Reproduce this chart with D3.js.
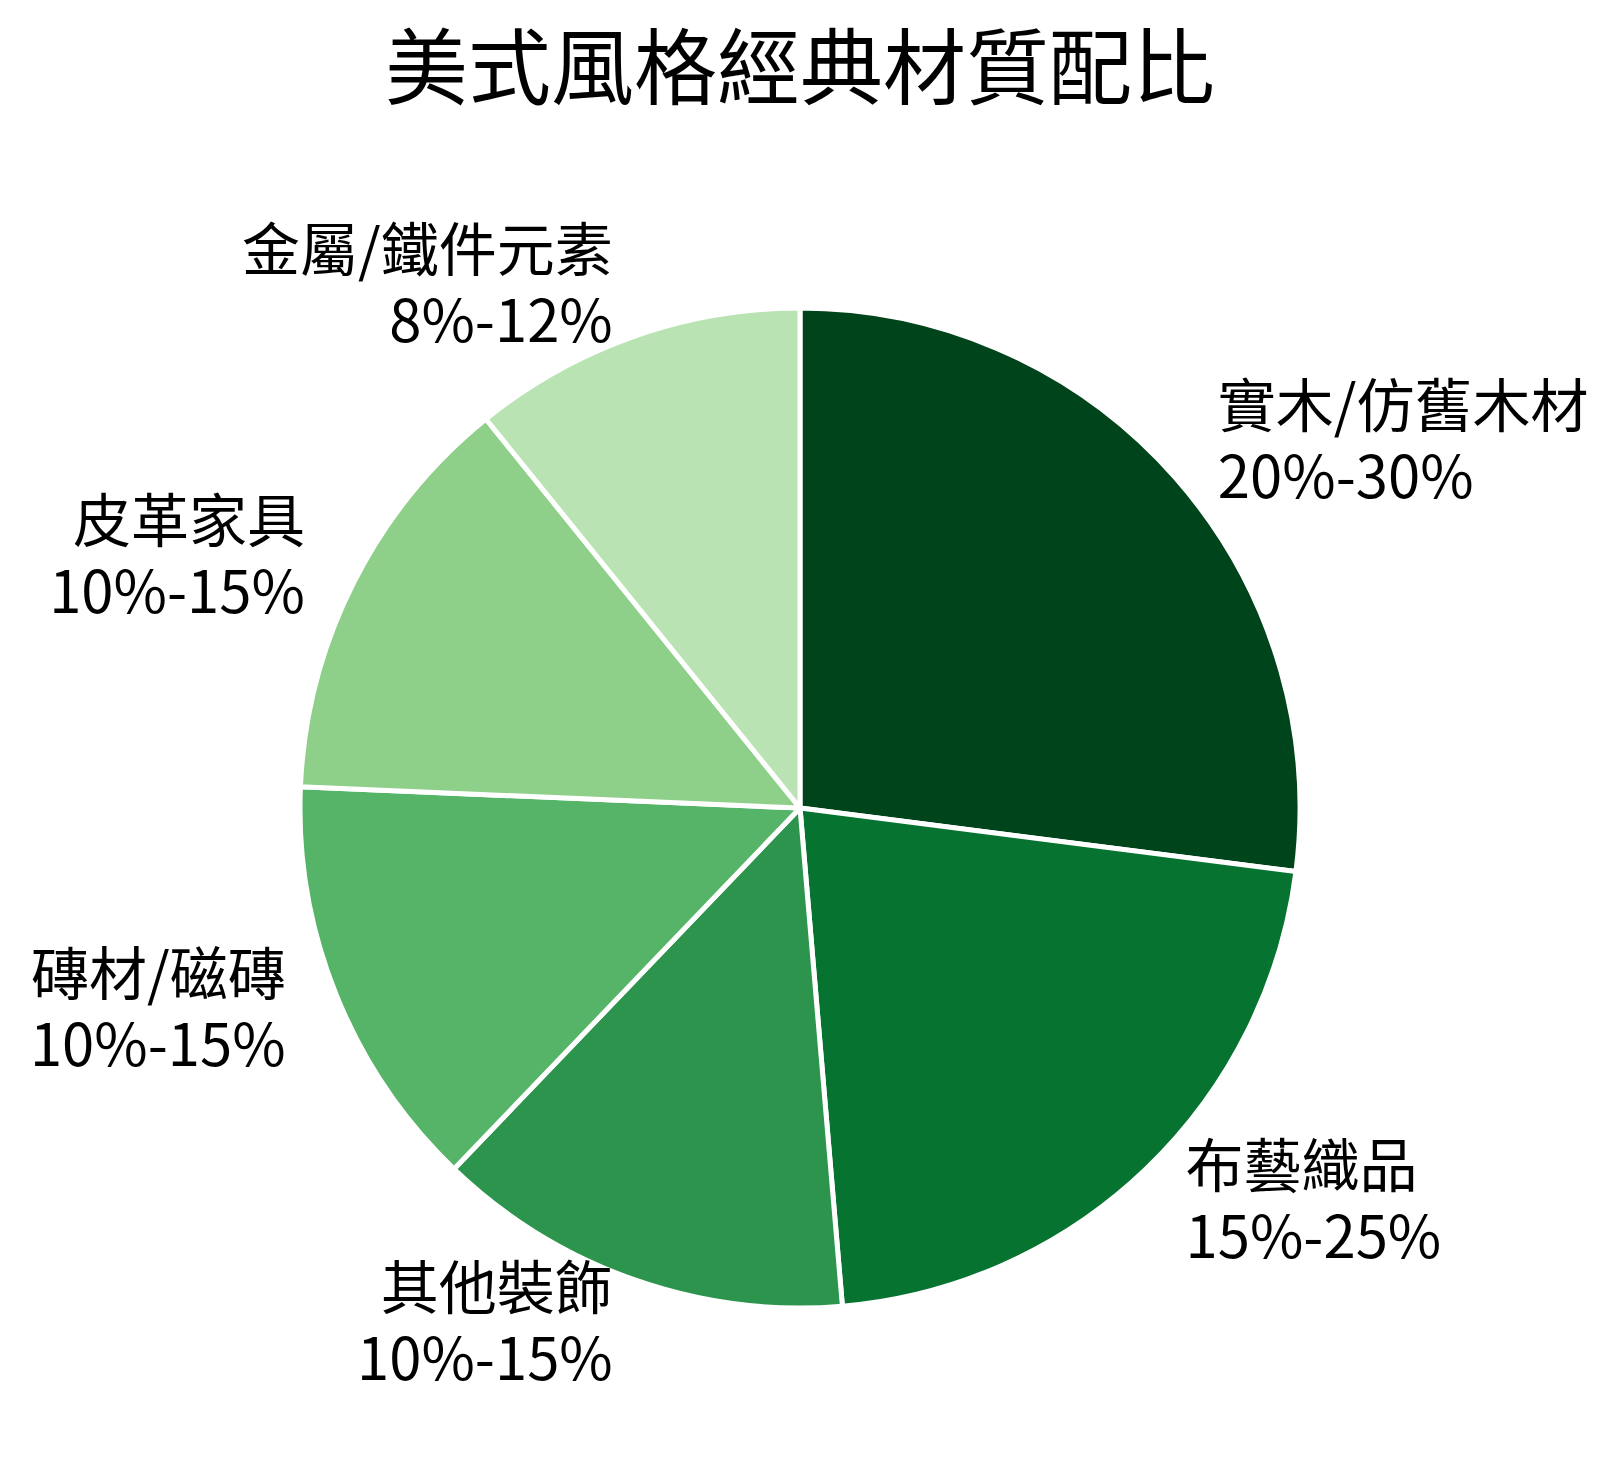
<!DOCTYPE html>
<html>
<head>
<meta charset="utf-8">
<script src="https://cdn.jsdelivr.net/npm/d3@7"></script>
<style>
  html, body { margin: 0; padding: 0; background: #fff; }
  svg { display: block; font-family: "Noto Sans CJK TC", "Noto Sans CJK SC", sans-serif; }
</style>
</head>
<body>
<svg id="pie"></svg>
<script>
// 材質類別與比例（取區間中間值作為扇形大小）
const categories = ["實木/仿舊木材", "布藝織品", "其他裝飾", "磚材/磁磚", "皮革家具", "金屬/鐵件元素"];
const rangeLabels = ["20%-30%", "15%-25%", "10%-15%", "10%-15%", "10%-15%", "8%-12%"];
const values = [25, 20, 12.5, 12.5, 12.5, 10];
const colors = ["#00441b", "#077331", "#2c944c", "#56b468", "#8ecf8a", "#b9e3b3"];

const width = 1618;
const height = 1468;
const cx = 800, cy = 808;
const radius = 500;

const data = categories.map((c, i) => ({ name: c, range: rangeLabels[i], value: values[i], color: colors[i] }));

const svg = d3.select("#pie")
  .attr("width", width)
  .attr("height", height);

svg.append("text")
  .attr("x", cx)
  .attr("y", 98)
  .attr("text-anchor", "middle")
  .attr("font-size", 83)
  .attr("fill", "#000")
  .text("美式風格經典材質配比");

const pie = d3.pie().sort(null).value(d => d.value);
const arcs = pie(data);

const arc = d3.arc().innerRadius(0).outerRadius(radius);
const labelArc = d3.arc().innerRadius(radius * 1.1).outerRadius(radius * 1.1);

const g = svg.append("g").attr("transform", `translate(${cx},${cy})`);

g.selectAll("path")
  .data(arcs)
  .join("path")
  .attr("d", arc)
  .attr("fill", d => d.data.color)
  .attr("stroke", "#fff")
  .attr("stroke-width", 5)
  .attr("stroke-linejoin", "round");

// 右側靠左對齊、左側靠右對齊
const labels = g.selectAll("text.lbl")
  .data(arcs)
  .join("text")
  .attr("class", "lbl")
  .attr("font-size", 58)
  .attr("fill", "#000")
  .attr("text-anchor", d => labelArc.centroid(d)[0] > 0 ? "start" : "end")
  .attr("transform", d => {
    const [x, y] = labelArc.centroid(d);
    return `translate(${x + (x > 0 ? 5 : -4)},${y})`;
  });

labels.append("tspan")
  .attr("x", 0)
  .attr("y", -18)
  .text(d => d.data.name);

labels.append("tspan")
  .attr("x", 0)
  .attr("y", 53)
  .text(d => d.data.range);
</script>
</body>
</html>
